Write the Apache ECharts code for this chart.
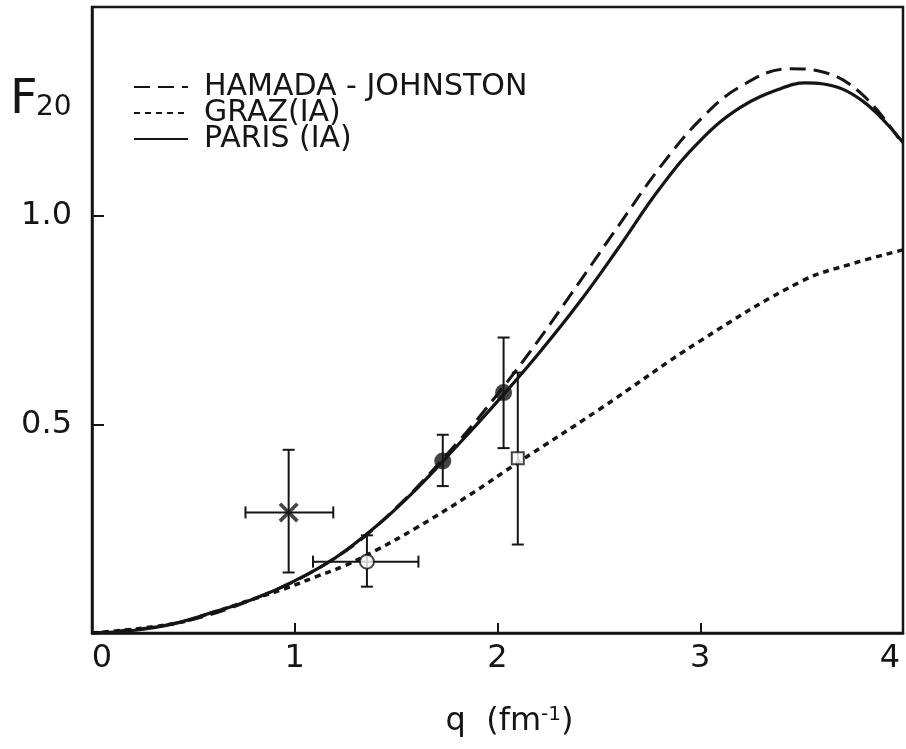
<!DOCTYPE html>
<html><head><meta charset="utf-8">
<script src="https://cdn.jsdelivr.net/npm/echarts@6/dist/echarts.min.js"></script>
<style>html,body{margin:0;padding:0;background:#fff;overflow:hidden}#c{width:906px;height:749px}</style>
</head><body><div id="c"></div>
<script>
// Curves
const parisQ = [0,0.2,0.4,0.6,0.8,1.0,1.2,1.4,1.6,1.8,2.0,2.2,2.4,2.6,2.8,3.0,3.2,3.4,3.52,3.6,3.8,4.0];
const parisF = [0,0.006,0.022,0.05,0.082,0.125,0.18,0.255,0.345,0.448,0.555,0.668,0.79,0.925,1.065,1.18,1.26,1.305,1.318,1.316,1.275,1.175];
const hjQ = [0,0.4,0.8,1.2,1.5,1.8,2.0,2.2,2.4,2.6,2.8,3.0,3.2,3.44,3.6,3.8,4.0];
const hjF = [0,0.022,0.082,0.18,0.30,0.455,0.572,0.70,0.838,0.978,1.115,1.23,1.31,1.352,1.345,1.29,1.17];
const grazQ = [0,0.4,0.6,0.8,0.95,1.1,1.25,1.4,1.6,1.86,2.1,2.5,3.0,3.5,3.75,4.0];
const grazF = [0,0.022,0.05,0.082,0.106,0.134,0.162,0.198,0.252,0.33,0.408,0.535,0.70,0.843,0.885,0.918];
// Data points: [q, F, qLow, qHigh, FLow, FHigh]
const starPoint = [0.97, 0.289, 0.757, 1.19, 0.145, 0.439];
const openCircle = [1.356, 0.171, 1.09, 1.61, 0.111, 0.234];
const filledCircle1 = [1.73, 0.412, 1.73, 1.73, 0.352, 0.475];
const filledCircle2 = [2.03, 0.576, 2.03, 2.03, 0.443, 0.708];
const openSquare = [2.10, 0.419, 2.10, 2.10, 0.212, 0.624];
// Ticks
const xTicks = [0,1,2,3,4];
const yTickLabels = {0.5:'0.5', 1:'1.0'};
const names = ['HAMADA - JOHNSTON','GRAZ(IA)','PARIS (IA)'];

const zip = (a,b)=>a.map((v,i)=>[v,b[i]]);
const ink = '#151515';
const FONT = 'DejaVu Sans';
const chart = echarts.init(document.getElementById('c'));
const xPath = 'path://M0,1.3 L1.3,0 L10,8.7 L8.7,10 Z M8.7,0 L10,1.3 L1.3,10 L0,8.7 Z';
chart.setOption({
  animation:false,
  backgroundColor:'#fff',
  grid:{left:92,right:3,top:7,bottom:116,show:true,borderColor:ink,borderWidth:2.5,backgroundColor:'transparent',
    containLabel:false,outerBoundsMode:'none'},
  graphic:[
    {type:'text',left:10,top:77,style:{text:'F',fontSize:48,fontFamily:FONT,fill:ink}},
    {type:'text',left:36,top:94,style:{text:'20',fontSize:28,fontFamily:FONT,fill:ink}}
  ],
  legend:{
    orient:'vertical',left:133,top:72,padding:0,itemGap:-4,itemWidth:54,itemHeight:14,
    data:names,
    itemStyle:{opacity:0},
    textStyle:{fontFamily:FONT,fontSize:30,color:ink,padding:[0,0,0,11]}
  },
  xAxis:{type:'value',min:0,max:4,interval:1,
    axisLine:{show:true,lineStyle:{color:ink,width:2.5}},
    axisTick:{show:true,inside:true,length:10,lineStyle:{color:ink,width:2}},
    splitLine:{show:false},
    axisLabel:{color:ink,fontFamily:FONT,fontSize:32,margin:10,showMaxLabel:true,showMinLabel:true,
      formatter:v=>v===xTicks[0]?'{z|0}':(v===xTicks[4]?'{e|4}':String(v)),
      rich:{z:{fontFamily:FONT,fontSize:32,color:ink,padding:[0,0,0,20]},
            e:{fontFamily:FONT,fontSize:32,color:ink,padding:[0,26,0,0]}}},
    name:'q  (fm{s|-1})',nameLocation:'middle',nameGap:72,
    nameTextStyle:{color:ink,fontFamily:FONT,fontSize:32,padding:[0,0,0,24],
      rich:{s:{fontFamily:FONT,fontSize:20,color:ink,verticalAlign:'top',padding:[0,0,14,0]}}}
  },
  yAxis:{type:'value',min:0,max:1.5,interval:0.5,
    axisLine:{show:true,lineStyle:{color:ink,width:2.5}},
    axisTick:{show:true,inside:true,length:12,lineStyle:{color:ink,width:2}},
    splitLine:{show:false},
    axisLabel:{color:ink,fontFamily:FONT,fontSize:32,margin:20,showMinLabel:false,showMaxLabel:false,
      formatter:v=>yTickLabels[v]||''}
  },
  series:[
    {name:names[0],type:'line',smooth:0.4,symbol:'none',data:zip(hjQ,hjF),z:3,
      lineStyle:{color:ink,width:3,type:[16,8]},itemStyle:{color:ink}},
    {name:names[1],type:'line',smooth:0.4,symbol:'none',data:zip(grazQ,grazF),z:3,
      lineStyle:{color:ink,width:3.5,type:[6,5]},itemStyle:{color:ink}},
    {name:names[2],type:'line',smooth:0.4,symbol:'none',data:zip(parisQ,parisF),z:3,
      lineStyle:{color:ink,width:3.2,type:'solid'},itemStyle:{color:ink}},
    {type:'custom',z:4,data:[starPoint,openCircle,filledCircle1,filledCircle2,openSquare],
      encode:{x:[0,2,3],y:[1,4,5]},
      renderItem:function(params,api){
        const q=api.value(0),f=api.value(1),ql=api.value(2),qh=api.value(3),fl=api.value(4),fh=api.value(5);
        const t=api.coord([q,fh]), b=api.coord([q,fl]);
        const st={stroke:ink,lineWidth:2};
        const cap=6;
        const ch=[
          {type:'line',shape:{x1:t[0],y1:t[1],x2:b[0],y2:b[1]},style:st},
          {type:'line',shape:{x1:t[0]-cap,y1:t[1],x2:t[0]+cap,y2:t[1]},style:st},
          {type:'line',shape:{x1:b[0]-cap,y1:b[1],x2:b[0]+cap,y2:b[1]},style:st}
        ];
        if(qh>ql){
          const l=api.coord([ql,f]), r=api.coord([qh,f]);
          ch.push({type:'line',shape:{x1:l[0],y1:l[1],x2:r[0],y2:r[1]},style:st});
          ch.push({type:'line',shape:{x1:l[0],y1:l[1]-cap,x2:l[0],y2:l[1]+cap},style:st});
          ch.push({type:'line',shape:{x1:r[0],y1:r[1]-cap,x2:r[0],y2:r[1]+cap},style:st});
        }
        return {type:'group',children:ch};
      }},
    {type:'scatter',z:6,symbol:xPath,symbolSize:20,data:[starPoint.slice(0,2)],itemStyle:{color:ink}},
    {type:'scatter',z:6,symbol:'circle',symbolSize:17,data:[filledCircle1.slice(0,2),filledCircle2.slice(0,2)],itemStyle:{color:ink}},
    {type:'scatter',z:6,symbol:'circle',symbolSize:14,data:[openCircle.slice(0,2)],itemStyle:{color:'#fff',borderColor:ink,borderWidth:2}},
    {type:'scatter',z:6,symbol:'rect',symbolSize:12,data:[openSquare.slice(0,2)],itemStyle:{color:'#fff',borderColor:ink,borderWidth:2}}
  ]
});
</script></body></html>
